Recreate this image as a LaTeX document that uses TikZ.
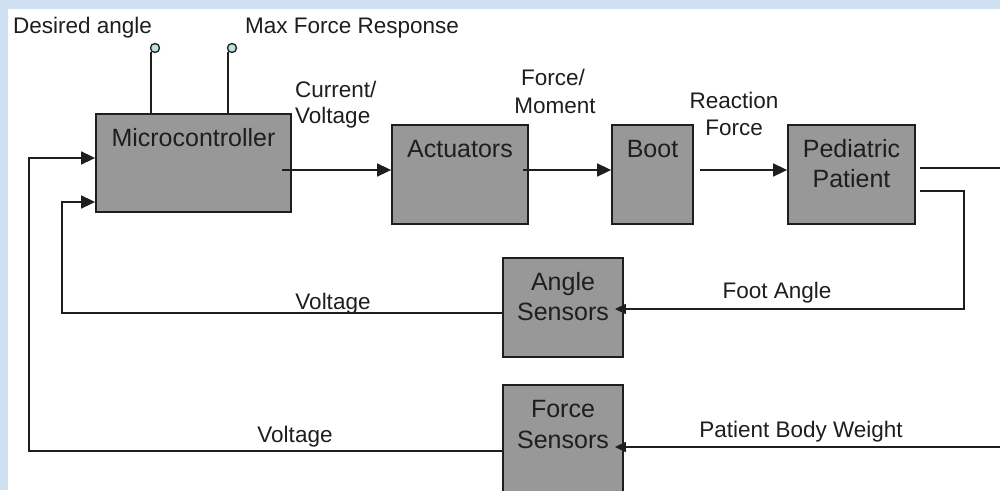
\documentclass[tikz,border=0pt]{standalone}
\usepackage{fontspec}
\setmainfont{Liberation Sans}
\usetikzlibrary{arrows.meta}
\definecolor{bgblue}{RGB}{206,224,242}
\definecolor{boxgray}{RGB}{152,152,152}
\definecolor{ink}{RGB}{30,30,30}
\definecolor{pin}{RGB}{190,225,228}
\begin{document}
\begin{tikzpicture}[x=1pt,y=-1pt,
  blk/.style={draw=ink,line width=1.8pt,fill=boxgray,inner sep=0pt},
  btxt/.style={text=ink,font=\fontsize{25}{29}\selectfont,anchor=base,inner sep=0pt},
  lbl/.style={text=ink,font=\fontsize{22.5}{26}\selectfont,anchor=base,inner sep=0pt},
  wire/.style={draw=ink,line width=1.6pt},
  arr/.style={wire,-{Triangle[length=14pt,width=13pt]}},
  sarr/.style={wire,-{Triangle[length=11pt,width=10pt]}},
  pinc/.style={circle,draw=ink,line width=1.3pt,fill=pin,minimum size=9pt,inner sep=0pt}]
\useasboundingbox (0,0) rectangle (1000,490);
\fill[bgblue] (0,0) rectangle (1000,490);
\fill[white] (8,9) rectangle (1000,490);
% boxes
\node[blk,minimum width=195pt,minimum height=98pt] (micro) at (193.5,163) {};
\node[blk,minimum width=136pt,minimum height=99pt] (act) at (460,174.5) {};
\node[blk,minimum width=81pt,minimum height=99pt] (boot) at (652.5,174.5) {};
\node[blk,minimum width=127pt,minimum height=99pt] (pat) at (851.5,174.5) {};
\node[blk,minimum width=120pt,minimum height=99pt] (ang) at (563,307.5) {};
\begin{scope}
\clip (0,0) rectangle (1000,490);
\node[blk,minimum width=120pt,minimum height=120pt] (frc) at (563,445) {};
\end{scope}
% box texts
\node[btxt] (tmicro) at (193.5,146) {Microcontroller};
\node[btxt] (tact) at (460,157) {Actuators};
\node[btxt] (tboot) at (652.5,157) {Boot};
\node[btxt] (tpat1) at (851.5,157) {Pediatric};
\node[btxt] (tpat2) at (851.5,187) {Patient};
\node[btxt] (tang1) at (563,290) {Angle};
\node[btxt] (tang2) at (563,320) {Sensors};
\node[btxt] (tfrc1) at (563,417) {Force};
\node[btxt] (tfrc2) at (563,448) {Sensors};
% labels
\node[lbl,anchor=base west] (ldes) at (13,33) {Desired angle};
\node[lbl,anchor=base west] (lmax) at (245,33) {Max Force Response};
\node[lbl,anchor=base west] (lcv1) at (295,97) {Current/};
\node[lbl,anchor=base west] (lcv2) at (295,123) {Voltage};
\node[lbl] (lfm1) at (553,85) {Force/};
\node[lbl] (lfm2) at (555,113) {Moment};
\node[lbl] (lrf1) at (734,108) {Reaction};
\node[lbl] (lrf2) at (734,135) {Force};
\node[lbl] (lfa) at (777,298) {Foot Angle};
\node[lbl] (lpbw) at (801,437) {Patient Body Weight};
\node[lbl] (lv1) at (333,309) {Voltage};
\node[lbl] (lv2) at (295,442) {Voltage};
% input pins
\node[pinc] (p1) at (155,48) {};
\node[pinc] (p2) at (232,48) {};
\coordinate (p1b) at (151,52);
\coordinate (p2b) at (228,52);
\draw[wire] (p1b) -- (p1b |- micro.north);
\draw[wire] (p2b) -- (p2b |- micro.north);
% forward path
\coordinate (m1) at (282,170);
\draw[arr] (m1) -- (act.west |- m1);
\coordinate (a1) at (523,170);
\draw[arr] (a1) -- (boot.west |- a1);
\coordinate (b1) at (700,170);
\draw[arr] (b1) -- (pat.west |- b1);
% patient outputs
\coordinate (po1) at (920,168);
\coordinate (re1) at (1000,168);
\draw[wire] (po1) -- (re1);
\coordinate (po2) at (920,191);
\coordinate (fa) at (964,309);
\draw[sarr] (po2) -- (fa |- po2) -- (fa) -- ([xshift=-9pt]ang.east |- fa);
\coordinate (re2) at (1000,447);
\draw[sarr] (re2) -- ([xshift=-9pt]frc.east |- re2);
% feedback
\coordinate (fb1) at (62,313);
\coordinate (fb1t) at (62,202);
\draw[arr] (ang.west |- fb1) -- (fb1) -- (fb1t) -- (micro.west |- fb1t);
\coordinate (fb2) at (29,451);
\coordinate (fb2t) at (29,158);
\draw[arr] (frc.west |- fb2) -- (fb2) -- (fb2t) -- (micro.west |- fb2t);
\end{tikzpicture}
\end{document}
